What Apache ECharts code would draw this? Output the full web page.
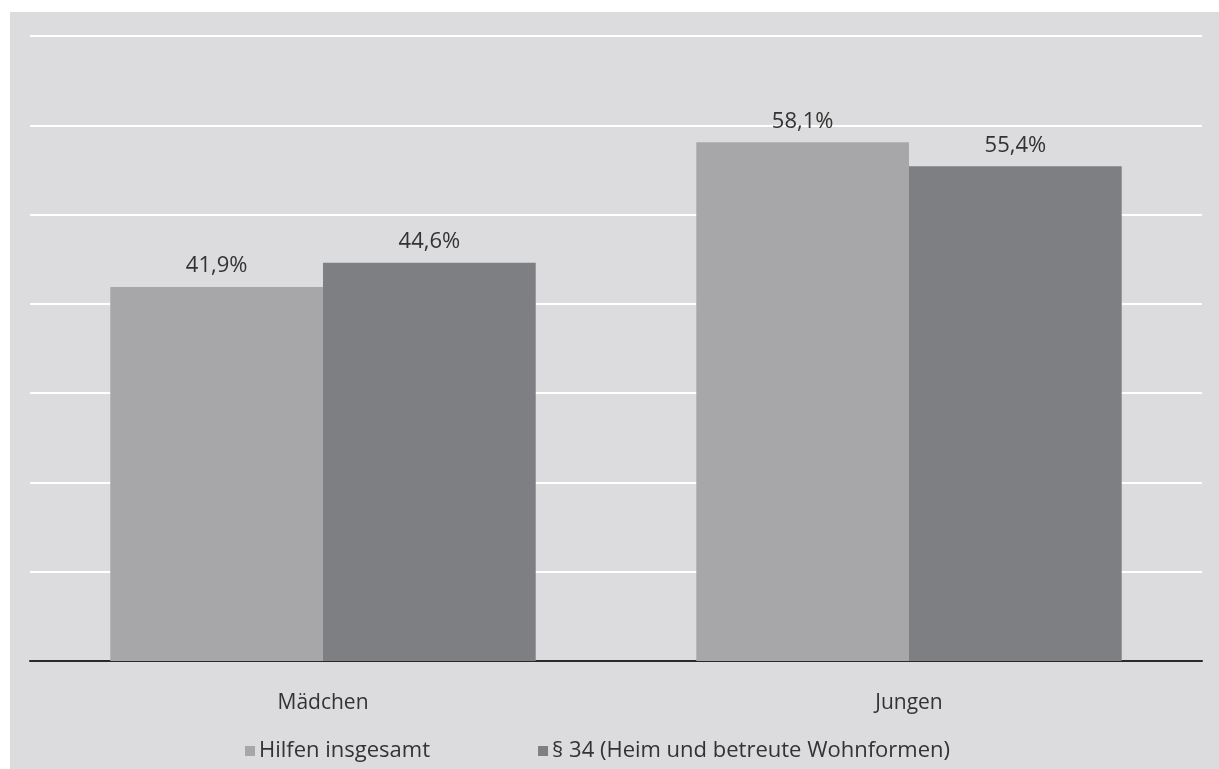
<!DOCTYPE html>
<html>
<head>
<meta charset="utf-8">
<script src="https://cdn.jsdelivr.net/npm/echarts@6/dist/echarts.min.js"></script>
<style>
  html, body { margin: 0; padding: 0; background: #ffffff; }
  #chart { width: 1219px; height: 769px; }
</style>
</head>
<body>
<div id="chart"></div>
<script>
// Anteil nach Geschlecht (in %)
const categories = ['Mädchen', 'Jungen'];
const seriesNames = ['Hilfen insgesamt', '§ 34 (Heim und betreute Wohnformen)'];
const hilfenInsgesamt = [41.9, 58.1];
const heimWohnformen = [44.6, 55.4];

const FONT = '"Open Sans", sans-serif';
const TEXT = '#333333';

const fmt = p => p.value.toFixed(1).replace('.', ',') + '%';

const chart = echarts.init(document.getElementById('chart'));
chart.setOption({
  backgroundColor: '#ffffff',
  animation: false,
  graphic: [{
    type: 'rect',
    z: -10,
    shape: { x: 10, y: 12, width: 1209, height: 757 },
    style: { fill: '#dcdcde' }
  }],
  grid: { left: 30, right: 17, top: 36, bottom: 108, containLabel: false },
  legend: {
    left: 240,
    top: 735,
    icon: 'rect',
    itemWidth: 10,
    itemHeight: 10,
    itemGap: 108,
    textStyle: { fontFamily: FONT, fontSize: 22, color: TEXT, padding: [0, 0, 0, -1] },
    data: seriesNames
  },
  xAxis: {
    type: 'category',
    data: categories,
    axisTick: { show: false },
    axisLine: { lineStyle: { color: '#2a2a2a', width: 2 } },
    axisLabel: { fontFamily: FONT, fontSize: 21, color: TEXT, margin: 32 }
  },
  yAxis: {
    type: 'value',
    min: 0,
    max: 70,
    interval: 10,
    axisLabel: { show: false },
    axisLine: { show: false },
    axisTick: { show: false },
    splitLine: { lineStyle: { color: '#ffffff', width: 2 } }
  },
  series: [
    {
      name: seriesNames[0],
      type: 'bar',
      data: hilfenInsgesamt,
      barGap: '0%',
      barCategoryGap: '27.4%',
      itemStyle: { color: '#a7a7a9' },
      label: {
        show: true, position: 'top', distance: 10, formatter: fmt,
        fontFamily: FONT, fontSize: 22, color: TEXT
      }
    },
    {
      name: seriesNames[1],
      type: 'bar',
      data: heimWohnformen,
      itemStyle: { color: '#7e7f82' },
      label: {
        show: true, position: 'top', distance: 10, formatter: fmt,
        fontFamily: FONT, fontSize: 22, color: TEXT
      }
    }
  ]
});
</script>
</body>
</html>
